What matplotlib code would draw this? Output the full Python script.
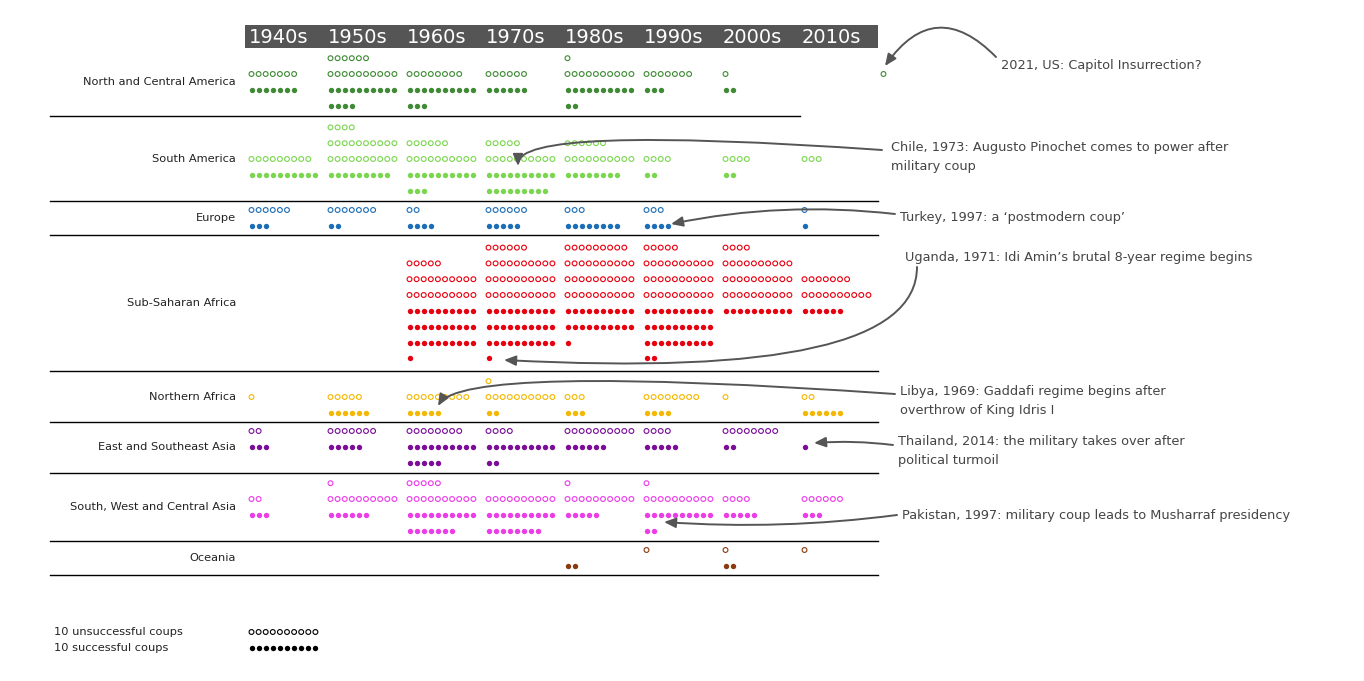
import math
import matplotlib.pyplot as plt
from matplotlib.patches import Rectangle

decades = ['1940s', '1950s', '1960s', '1970s', '1980s', '1990s', '2000s', '2010s', '2020s']
header_labels = decades[:8]
regions = ['North and Central America', 'South America', 'Europe', 'Sub-Saharan Africa',
           'Northern Africa', 'East and Southeast Asia', 'South, West and Central Asia', 'Oceania']
colors = ['#3f8a35', '#7bd64f', '#1b6db5', '#e8000f', '#f4b800', '#7a0c98', '#ec3ce8', '#8a3a0c']

# unsuccessful / successful coups per decade (last entry = 2020s)
failed_nca = [7, 16, 8, 6, 11, 7, 1, 0, 1]
success_nca = [7, 14, 13, 6, 12, 3, 2, 0, 0]
failed_sa = [9, 24, 16, 15, 16, 4, 4, 3, 0]
success_sa = [10, 9, 13, 19, 8, 2, 2, 0, 0]
failed_eu = [6, 7, 2, 6, 3, 3, 0, 1, 0]
success_eu = [3, 2, 4, 5, 8, 4, 0, 1, 0]
failed_ssa = [0, 0, 25, 36, 39, 35, 34, 17, 0]
success_ssa = [0, 0, 31, 31, 21, 32, 10, 6, 0]
failed_naf = [1, 5, 9, 11, 3, 8, 1, 2, 0]
success_naf = [0, 6, 5, 2, 3, 4, 0, 6, 0]
failed_esa = [2, 7, 8, 4, 10, 4, 8, 0, 0]
success_esa = [3, 5, 15, 12, 6, 5, 2, 1, 0]
failed_swca = [2, 11, 15, 10, 11, 11, 4, 6, 0]
success_swca = [3, 6, 17, 18, 5, 12, 5, 3, 0]
failed_oce = [0, 0, 0, 0, 0, 1, 1, 1, 0]
success_oce = [0, 0, 0, 0, 2, 0, 2, 0, 0]

failed = [failed_nca, failed_sa, failed_eu, failed_ssa, failed_naf, failed_esa, failed_swca, failed_oce]
success = [success_nca, success_sa, success_eu, success_ssa, success_naf, success_esa, success_swca, success_oce]

fig = plt.figure(figsize=(13.64, 6.81), dpi=100)
ax = fig.add_axes([0, 0, 1, 1])
ax.set_xlim(0, 1364)
ax.set_ylim(681, 0)
ax.axis('off')

x0 = 251.5      # first dot centre
col_w = 79      # decade column width
dot_w = 7.1     # dot pitch
row_h = 17      # band height per row
dot_h = 15.8    # dot row pitch
top = 48

# header bar
ax.add_patch(Rectangle((245, 25), 633, 23, color='#555555', lw=0))
for i, lab in enumerate(header_labels):
    ax.text(x0 - 3 + i * col_w, 37.5, lab, color='white', fontsize=14, va='center', ha='left')

band_top = top
for r, name in enumerate(regions):
    n_up = max(math.ceil(v / 10) for v in failed[r])
    n_dn = max(math.ceil(v / 10) for v in success[r])
    split = band_top + n_up * row_h
    band_bot = split + n_dn * row_h
    hx, hy, fx, fy = [], [], [], []
    for c in range(len(decades)):
        for k in range(failed[r][c]):
            row, pos = divmod(k, 10)
            hx.append(x0 + c * col_w + pos * dot_w)
            hy.append(split - 8 - row * dot_h)
        for k in range(success[r][c]):
            row, pos = divmod(k, 10)
            fx.append(x0 + c * col_w + pos * dot_w)
            fy.append(split + 8 + row * dot_h)
    ax.scatter(hx, hy, s=12, facecolors='none', edgecolors=colors[r], linewidths=0.8)
    ax.scatter(fx, fy, s=15, color=colors[r], linewidths=0)
    ax.text(236, (band_top + band_bot) / 2, name, fontsize=8.2, color='#222222',
            ha='right', va='center')
    ax.plot([50, 800 if r == 0 else 878], [band_bot, band_bot], color='black', lw=1)
    band_top = band_bot

# legend
lx = [x0 + k * dot_w for k in range(10)]
ax.scatter(lx, [632] * 10, s=12, facecolors='none', edgecolors='black', linewidths=0.8)
ax.scatter(lx, [648] * 10, s=15, color='black', linewidths=0)
ax.text(54, 632, '10 unsuccessful coups', fontsize=8.2, color='#222222', va='center')
ax.text(54, 648, '10 successful coups', fontsize=8.2, color='#222222', va='center')

# annotations
tc = '#444444'
ac = '#555555'
def arrow(start, end, style):
    ax.annotate('', xy=end, xytext=start,
                arrowprops=dict(arrowstyle='-|>,head_length=0.7,head_width=0.3',
                                color=ac, lw=1.4, connectionstyle=style,
                                shrinkA=0, shrinkB=0))

ax.text(1001, 65, '2021, US: Capitol Insurrection?', fontsize=9.3, color=tc, va='center')
arrow((996, 57), (885, 66), 'arc3,rad=0.6')

ax.text(891, 157, 'Chile, 1973: Augusto Pinochet comes to power after\nmilitary coup',
        fontsize=9.3, color=tc, va='center', linespacing=1.6)
arrow((882, 150), (518, 166), 'angle3,angleA=176,angleB=90')

ax.text(900, 218, 'Turkey, 1997: a \u2018postmodern coup\u2019', fontsize=9.3, color=tc, va='center')
arrow((895, 214), (671, 224), 'arc3,rad=0.08')

ax.text(905, 258, 'Uganda, 1971: Idi Amin\u2019s brutal 8-year regime begins', fontsize=9.3,
        color=tc, va='center')
arrow((917, 267), (504, 360), 'angle3,angleA=90,angleB=-3')

ax.text(900, 401, 'Libya, 1969: Gaddafi regime begins after\noverthrow of King Idris I',
        fontsize=9.3, color=tc, va='center', linespacing=1.6)
arrow((895, 394), (438, 406), 'angle3,angleA=176,angleB=60')

ax.text(898, 451, 'Thailand, 2014: the military takes over after\npolitical turmoil',
        fontsize=9.3, color=tc, va='center', linespacing=1.6)
arrow((893, 445), (814, 443), 'arc3,rad=0.05')

ax.text(902, 515, 'Pakistan, 1997: military coup leads to Musharraf presidency', fontsize=9.3,
        color=tc, va='center')
arrow((897, 515), (664, 522), 'arc3,rad=-0.05')

fig.savefig('out.png', dpi=100, facecolor='white')
